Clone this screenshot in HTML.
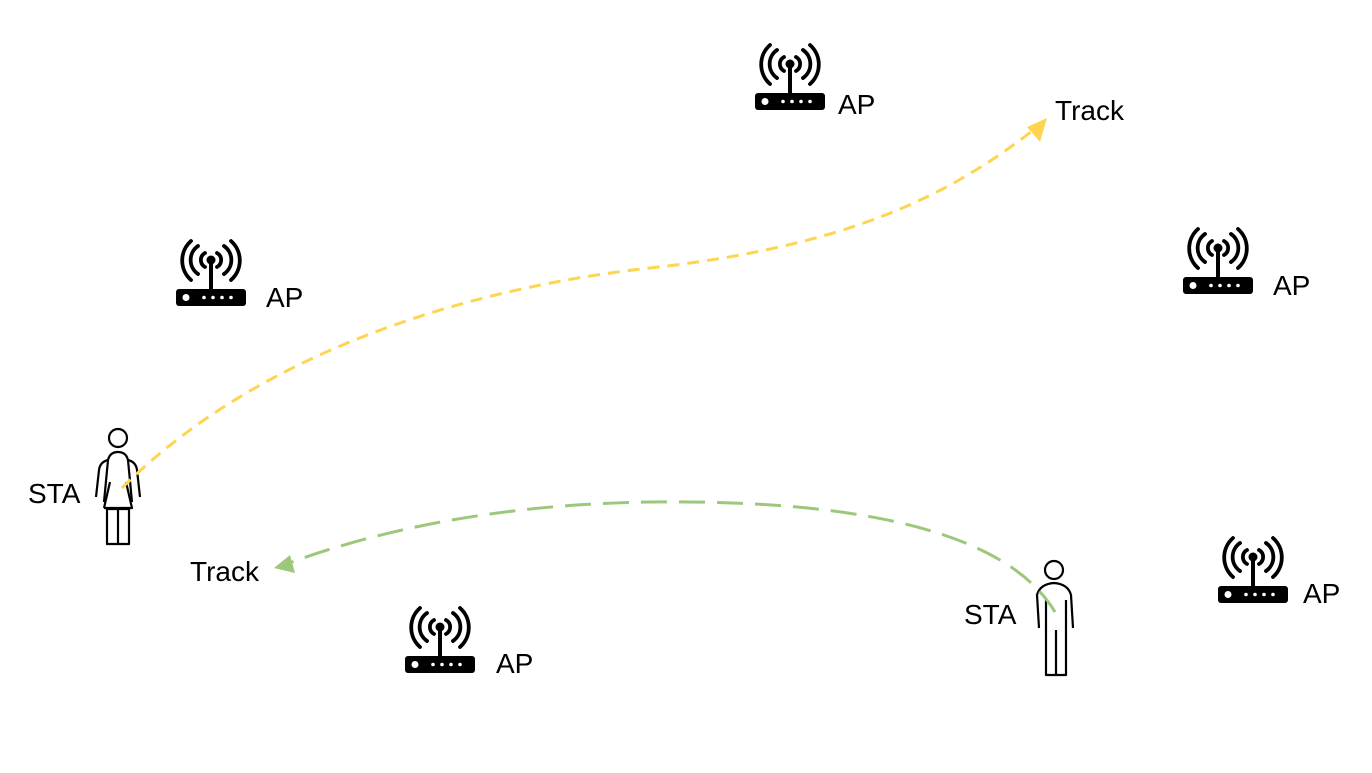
<!DOCTYPE html>
<html><head><meta charset="utf-8"><style>
html,body{margin:0;padding:0;background:#fff;}
svg text{font-family:"Liberation Sans",sans-serif;font-size:28px;fill:#000;}
</style></head><body>
<svg width="1372" height="768" viewBox="0 0 1372 768" xmlns="http://www.w3.org/2000/svg">
<defs>
<g id="ap">
  <g fill="none" stroke="#000" stroke-width="3.8" stroke-linecap="round">
    <path d="M29,13 A8,8 0 0 0 29,27"/><path d="M41,13 A8,8 0 0 1 41,27"/>
    <path d="M22,6 A17,17 0 0 0 22,34"/><path d="M48,6 A17,17 0 0 1 48,34"/>
    <path d="M15,1 A26,26 0 0 0 15,40"/><path d="M55,1 A26,26 0 0 1 55,40"/>
  </g>
  <line x1="35" y1="20" x2="35" y2="50" stroke="#000" stroke-width="4"/>
  <circle cx="35" cy="20" r="4.5" fill="#000"/>
  <rect x="0" y="49" width="70" height="17" rx="3" fill="#000"/>
  <circle cx="10" cy="57.5" r="3.5" fill="#fff"/>
  <circle cx="28" cy="57.5" r="1.8" fill="#fff"/><circle cx="37" cy="57.5" r="1.8" fill="#fff"/>
  <circle cx="46" cy="57.5" r="1.8" fill="#fff"/><circle cx="55" cy="57.5" r="1.8" fill="#fff"/>
</g>
</defs>
<use href="#ap" x="755" y="44"/><text x="838" y="114">AP</text>
<use href="#ap" x="176" y="240"/><text x="266" y="307">AP</text>
<use href="#ap" x="1183" y="228"/><text x="1273" y="295">AP</text>
<use href="#ap" x="1218" y="537"/><text x="1303" y="603">AP</text>
<use href="#ap" x="405" y="607"/><text x="496" y="673">AP</text>

<!-- woman -->
<g fill="none" stroke="#000" stroke-width="2.2" stroke-linejoin="round">
  <circle cx="118" cy="438" r="9"/>
  <path d="M104,502 L108,460 Q110,452 118,452 Q126,452 128,460 L132,502"/>
  <path d="M108,460 Q100,462 99,470 L96,497"/>
  <path d="M128,460 Q136,462 137,470 L140,497"/>
  <path d="M104,508 L132,508 L126,482"/>
  <path d="M104,508 L110,482"/>
  <rect x="107" y="509" width="22" height="35"/>
  <line x1="118" y1="509" x2="118" y2="544"/>
</g>
<!-- man -->
<g fill="none" stroke="#000" stroke-width="2.2" stroke-linejoin="round">
  <circle cx="1054" cy="570" r="9"/>
  <path d="M1039,628 L1037,595 Q1040,584 1054,583 Q1068,584 1071,595 L1073,628"/>
  <path d="M1046,600 L1046,675 L1066,675 L1066,600"/>
  <line x1="1056" y1="630" x2="1056" y2="675"/>
</g>

<!-- yellow track -->
<path d="M122,488 C250,360 450,290 650,268 C850,246 950,195 1036,128" fill="none" stroke="#FFD451" stroke-width="3" stroke-dasharray="12,8"/>
<polygon points="1047,118 1027,127 1040,142" fill="#FFD451"/>
<text x="1055" y="120">Track</text>

<!-- green track -->
<path d="M1055,612 C1000,520 820,500 650,502 C500,504 380,530 292,562" fill="none" stroke="#9DC77B" stroke-width="3" stroke-dasharray="26,12"/>
<polygon points="274,568 290,555 295,573" fill="#9DC77B"/>
<text x="190" y="581">Track</text>

<text x="28" y="503">STA</text>
<text x="964" y="624">STA</text>
</svg>
</body></html>
